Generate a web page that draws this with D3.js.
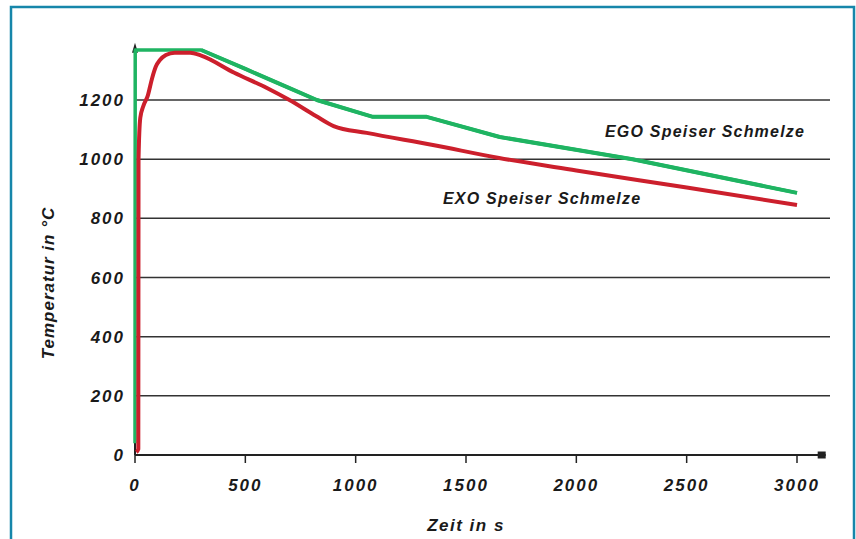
<!DOCTYPE html>
<html>
<head>
<meta charset="utf-8">
<script src="https://cdn.jsdelivr.net/npm/d3@7"></script>
<style>
  body { margin: 0; background: #fff; }
  text { font-family: "Liberation Sans", Arial, sans-serif; font-weight: bold; font-style: italic; fill: #1a1a1a; }
</style>
</head>
<body>
<div id="chart"></div>
<script>
// values: [time s, temperature °C]
const egoSeries = [[0, 40], [1, 1369], [300, 1369], [500, 1305], [700, 1240], [824, 1200], [1078, 1143],
  [1322, 1143], [1653, 1075], [2255, 1000], [3000, 886]]
const exoSeries = [[6, 10], [15, 20], [16, 1000], [24, 1140], [37, 1178], [58, 1215], [77, 1272], [94, 1312],
  [114, 1336], [140, 1352], [180, 1360], [250, 1360], [300, 1350], [450, 1292], [600, 1240],
  [700, 1200], [820, 1146], [900, 1112], [1050, 1089], [1350, 1048], [1650, 1004], [2000, 962],
  [2500, 904], [3000, 845]]
const xTicks = [0, 500, 1000, 1500, 2000, 2500, 3000]
const yTicks = [0, 200, 400, 600, 800, 1000, 1200]
const seriesNames = ['EGO Speiser Schmelze', 'EXO Speiser Schmelze']

const width = 856, height = 539

const svg = d3.select('#chart').append('svg')
  .attr('width', width)
  .attr('height', height)

// frame
svg.append('rect')
  .attr('x', 11).attr('y', 7)
  .attr('width', 843).attr('height', 560)
  .attr('fill', 'none')
  .attr('stroke', '#1686aa')
  .attr('stroke-width', 2.5)

const x = d3.scaleLinear().domain([0, 3000]).range([135, 797])
const y = d3.scaleLinear().domain([0, 1200]).range([455, 100])

const gridRight = 830

// grid lines
svg.selectAll('.grid')
  .data(yTicks.filter(d => d > 0))
  .enter()
  .append('line')
  .attr('x1', x(0)).attr('x2', gridRight)
  .attr('y1', d => y(d)).attr('y2', d => y(d))
  .attr('stroke', '#333').attr('stroke-width', 1.5)

// x axis with arrow
svg.append('line')
  .attr('x1', x(0)).attr('x2', x(3130))
  .attr('y1', y(0)).attr('y2', y(0))
  .attr('stroke', '#222').attr('stroke-width', 2)
svg.append('rect')
  .attr('x', x(3130) - 8).attr('y', y(0) - 3.5)
  .attr('width', 8).attr('height', 7)
  .attr('fill', '#222')

svg.selectAll('.xtick')
  .data(xTicks)
  .enter()
  .append('line')
  .attr('x1', d => x(d)).attr('x2', d => x(d))
  .attr('y1', y(0)).attr('y2', y(0) + 8)
  .attr('stroke', '#222').attr('stroke-width', 1.5)

svg.selectAll('.xlabel')
  .data(xTicks)
  .enter()
  .append('text')
  .attr('x', d => x(d))
  .attr('y', 491)
  .attr('text-anchor', 'middle')
  .style('font-size', '17px')
  .style('letter-spacing', '2px')
  .text(d => d)

// y axis with arrow
svg.append('line')
  .attr('x1', x(0)).attr('x2', x(0))
  .attr('y1', y(0)).attr('y2', y(1380))
  .attr('stroke', '#222').attr('stroke-width', 2)
svg.append('path')
  .attr('d', `M${x(0) - 3},${y(1380) + 6} L${x(0)},${y(1380) - 4} L${x(0) + 3},${y(1380) + 6} Z`)
  .attr('fill', '#222')

svg.selectAll('.ylabel')
  .data(yTicks)
  .enter()
  .append('text')
  .attr('x', 125)
  .attr('y', d => y(d) + 6)
  .attr('text-anchor', 'end')
  .style('font-size', '17px')
  .style('letter-spacing', '2px')
  .text(d => d)

// axis titles
svg.append('text')
  .attr('transform', 'translate(54, 283) rotate(-90)')
  .attr('text-anchor', 'middle')
  .style('font-size', '17px')
  .style('letter-spacing', '1px')
  .text('Temperatur in °C')

svg.append('text')
  .attr('x', 466).attr('y', 531)
  .attr('text-anchor', 'middle')
  .style('font-size', '17px')
  .style('letter-spacing', '1.5px')
  .text('Zeit in s')

// curves
const straight = d3.line()
  .x(d => x(d[0]))
  .y(d => y(d[1]))

const smooth = d3.line()
  .curve(d3.curveMonotoneX)
  .x(d => x(d[0]))
  .y(d => y(d[1]))

svg.append('path')
  .datum(egoSeries)
  .attr('d', straight)
  .attr('fill', 'none')
  .attr('stroke', '#1fb462')
  .attr('stroke-width', 3.5)
  .attr('stroke-linejoin', 'round')

svg.append('path')
  .datum(exoSeries)
  .attr('d', smooth)
  .attr('fill', 'none')
  .attr('stroke', '#cc1f2c')
  .attr('stroke-width', 4)
  .attr('stroke-linejoin', 'round')

// green runs over the red one after the crossing
svg.append('path')
  .datum(egoSeries.filter(d => d[0] >= 300))
  .attr('d', straight)
  .attr('fill', 'none')
  .attr('stroke', '#1fb462')
  .attr('stroke-width', 4)
  .attr('stroke-linejoin', 'round')

// series labels
svg.append('text')
  .attr('x', 605).attr('y', 137)
  .style('font-size', '16px')
  .style('letter-spacing', '1.2px')
  .text(seriesNames[0])

svg.append('text')
  .attr('x', 443).attr('y', 204)
  .style('font-size', '16px')
  .style('letter-spacing', '1.2px')
  .text(seriesNames[1])
</script>
</body>
</html>
